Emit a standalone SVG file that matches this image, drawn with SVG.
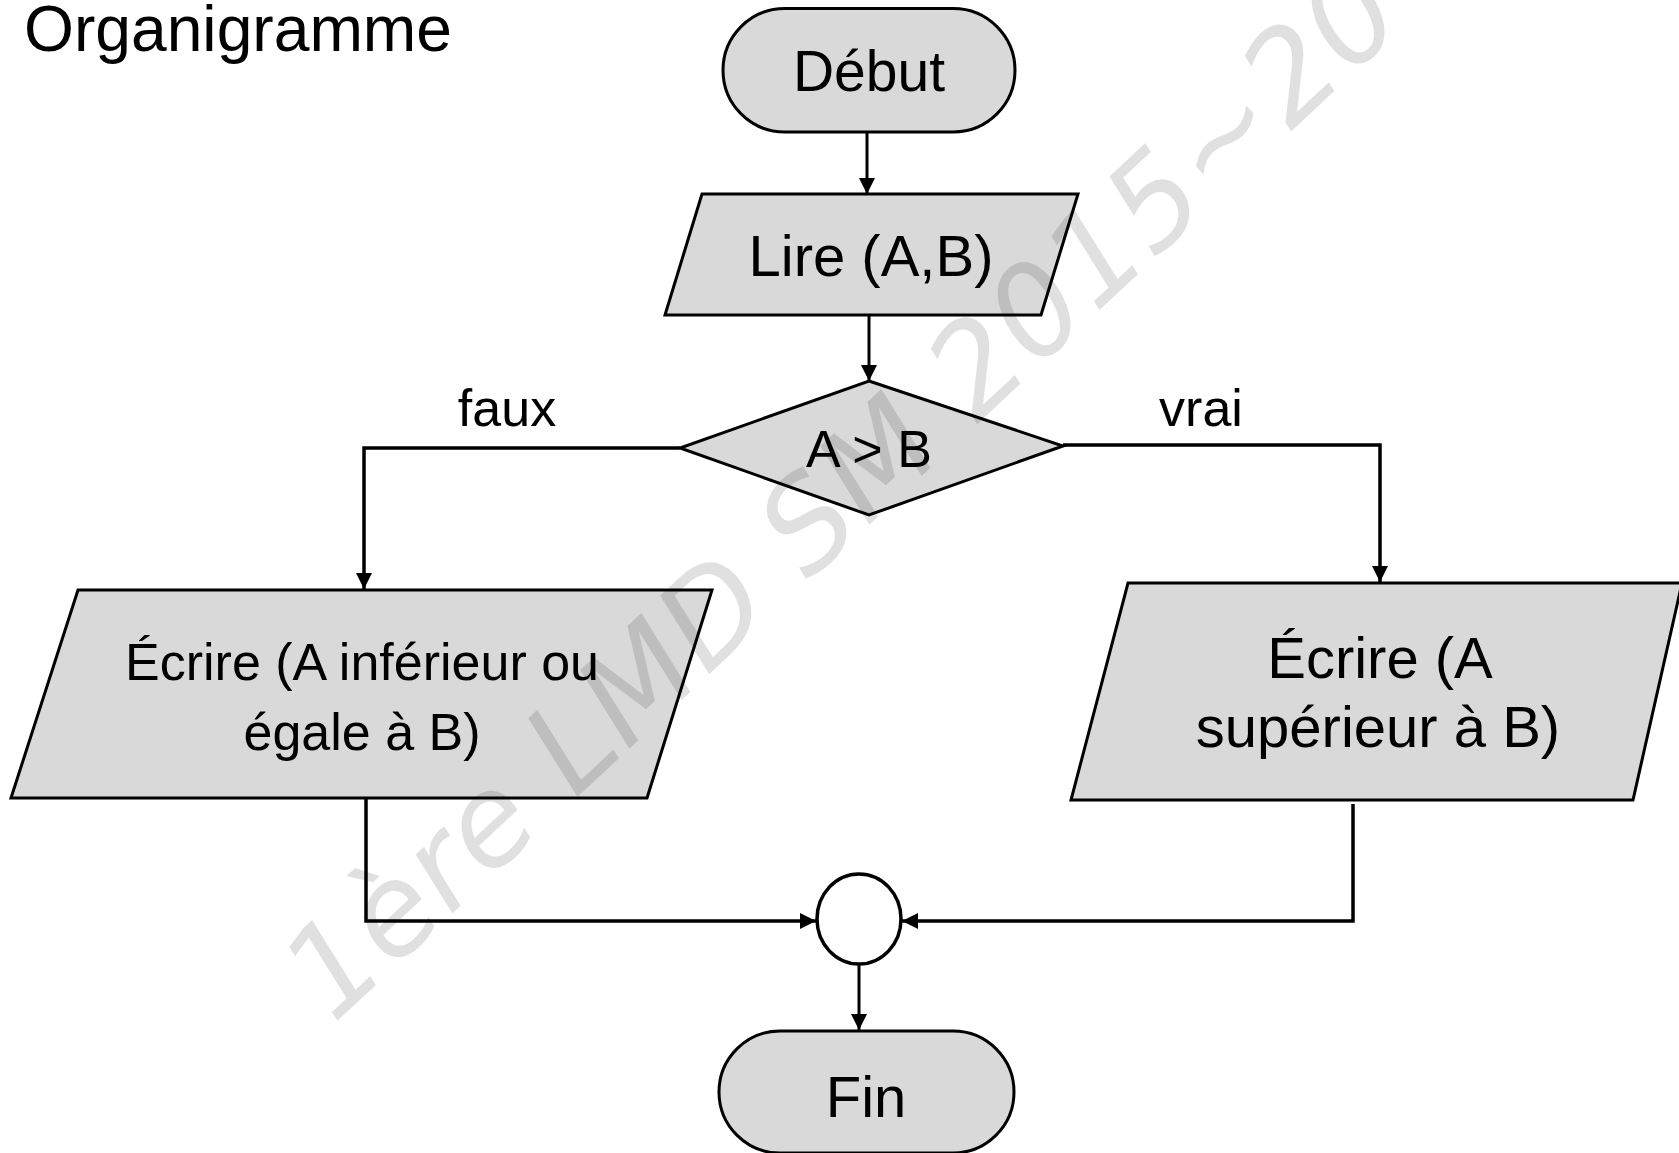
<svg xmlns="http://www.w3.org/2000/svg" width="1679" height="1153" viewBox="0 0 1679 1153">
  <style>
    .shape { fill: #d9d9d9; stroke: #000; stroke-width: 3; stroke-linejoin: miter; }
    .junction { fill: #fff; stroke: #000; stroke-width: 3.5; }
    .label { font-family: "Liberation Sans", Arial, sans-serif; fill: #000; text-anchor: middle; }
    .wire { fill: none; stroke: #000; stroke-width: 3; }
    .wm { font-family: "DejaVu Sans", sans-serif; font-style: italic; fill: #000; fill-opacity: 0.12; }
  </style>
  <defs>
    <marker id="arrow" viewBox="0 0 16 16" refX="16" refY="8" markerWidth="16" markerHeight="16" markerUnits="userSpaceOnUse" orient="auto">
      <path d="M0,0 L16,8 L0,16 Z" fill="#000"/>
    </marker>
  </defs>

  <rect width="1679" height="1153" fill="#fff"/>

  <text class="label" x="24" y="51" font-size="64" textLength="428" lengthAdjust="spacingAndGlyphs" style="text-anchor:start">Organigramme</text>

  <!-- connectors -->
  <g id="connectors">
    <line class="wire" x1="867" y1="132" x2="867" y2="194" marker-end="url(#arrow)"/>
    <line class="wire" x1="869" y1="315" x2="869" y2="381" marker-end="url(#arrow)"/>
    <polyline class="wire" points="680,448 364,448 364,589" marker-end="url(#arrow)" style="stroke-width:3.5"/>
    <polyline class="wire" points="1063,445 1380,445 1380,582" marker-end="url(#arrow)" style="stroke-width:3.5"/>
    <polyline class="wire" points="366,798 366,921 816,921" marker-end="url(#arrow)" style="stroke-width:3.5"/>
    <polyline class="wire" points="1353,804 1353,921 902,921" marker-end="url(#arrow)" style="stroke-width:3.5"/>
    <line class="wire" x1="859" y1="965" x2="859" y2="1030" marker-end="url(#arrow)"/>
    <text class="label" x="507" y="426" font-size="52">faux</text>
    <text class="label" x="1201" y="426" font-size="52">vrai</text>
  </g>

  <!-- start terminal -->
  <g id="debut">
    <rect class="shape" x="723" y="8.5" width="292" height="123.5" rx="61.75" ry="61.75"/>
    <text class="label" x="869" y="91" font-size="57">Début</text>
  </g>

  <!-- input A, B -->
  <g id="lire">
    <polygon class="shape" points="702,194 1078,194 1041,315 665,315"/>
    <text class="label" x="871" y="276" font-size="58">Lire (A,B)</text>
  </g>

  <!-- test -->
  <g id="test">
    <polygon class="shape" points="869,381 1063,446 869,515 680,448"/>
    <text class="label" x="869" y="467" font-size="52">A &gt; B</text>
  </g>

  <!-- false branch output -->
  <g id="ecrire-inf">
    <polygon class="shape" points="78,590 712,590 647,798 11,798"/>
    <text class="label" x="362" y="680" font-size="52">Écrire (A inférieur ou</text>
    <text class="label" x="362" y="750" font-size="52">égale à B)</text>
  </g>

  <!-- true branch output -->
  <g id="ecrire-sup">
    <polygon class="shape" points="1128,583 1682,583 1633,800 1071,800"/>
    <text class="label" x="1380" y="678" font-size="58">Écrire (A</text>
    <text class="label" x="1378" y="747" font-size="58">supérieur à B)</text>
  </g>

  <!-- merge point -->
  <g id="jonction">
    <ellipse class="junction" cx="859" cy="919" rx="42" ry="45"/>
  </g>

  <!-- end terminal -->
  <g id="fin">
    <rect class="shape" x="719" y="1031" width="295" height="122" rx="61" ry="61"/>
    <text class="label" x="866" y="1117" font-size="58">Fin</text>
  </g>

  <!-- watermark -->
  <text class="wm" x="333" y="1025" font-size="125" textLength="1470" lengthAdjust="spacing" transform="rotate(-43 333 1025)">1ère LMD SM 2015~20</text>
</svg>
